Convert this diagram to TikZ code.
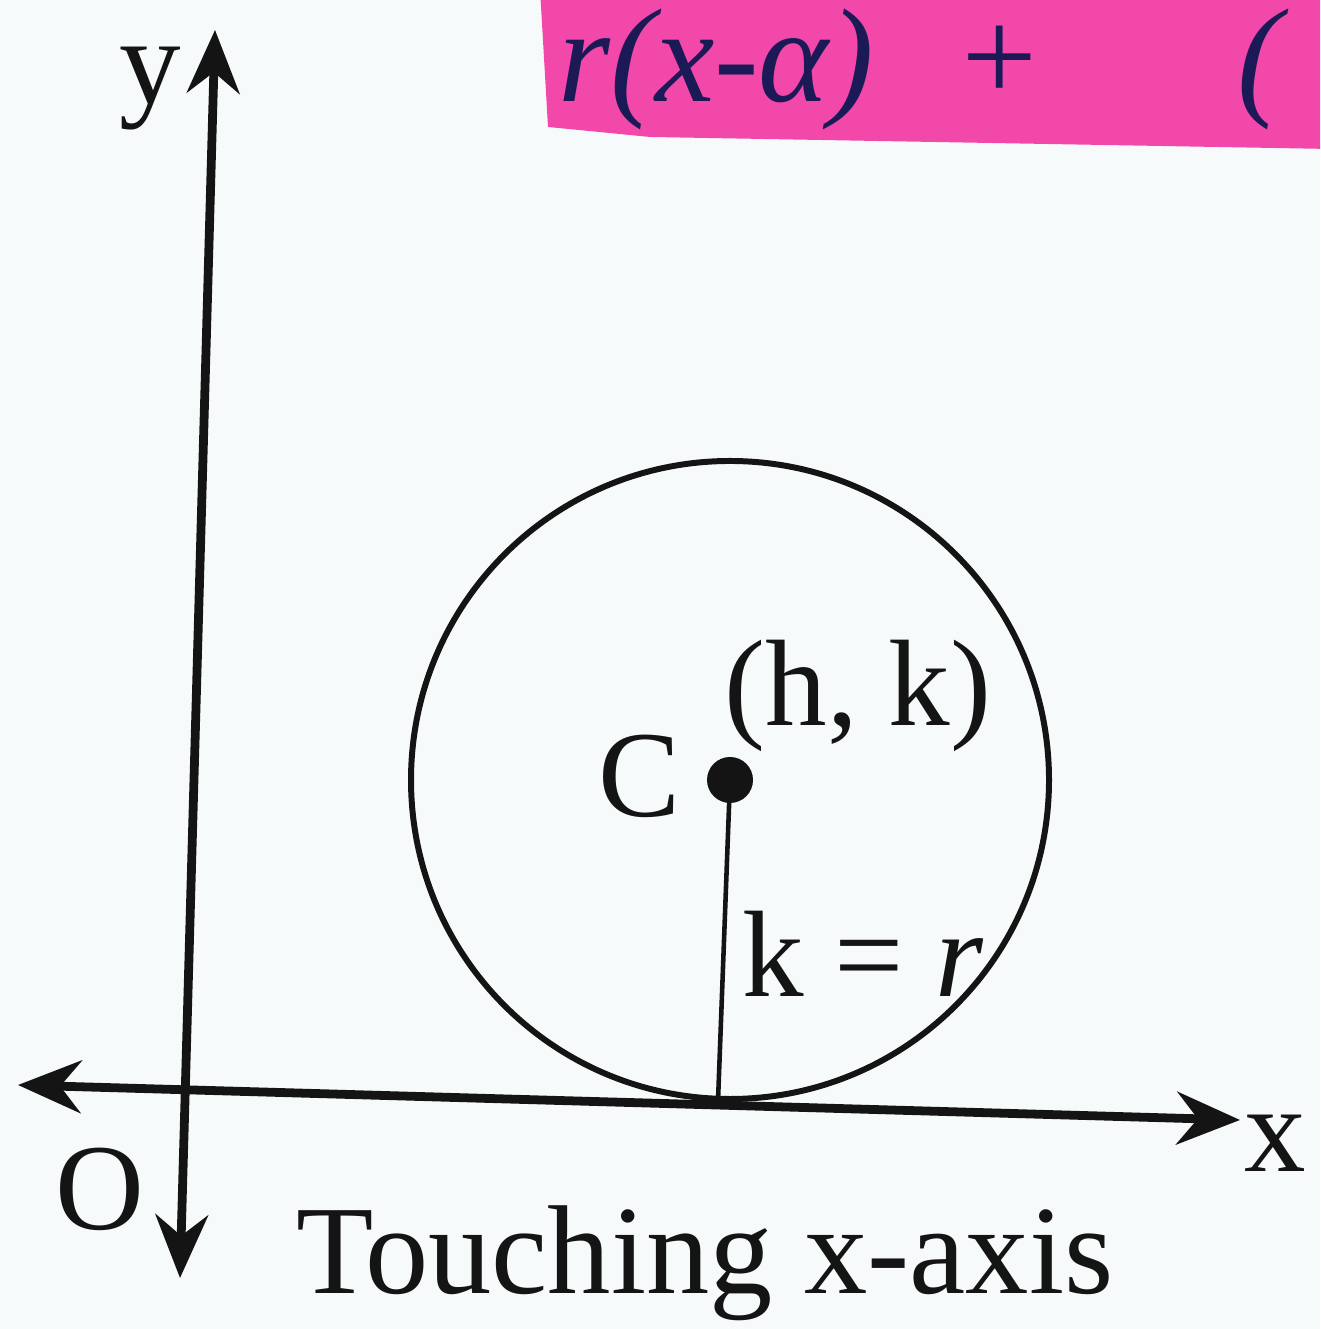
\documentclass[tikz,border=0pt]{standalone}
\usepackage{fontspec,amsmath,amssymb,unicode-math}
\setmainfont{Liberation Serif}
\usetikzlibrary{arrows.meta,positioning,calc}
\definecolor{scanpaper}{RGB}{246,250,251}
\definecolor{markpink}{RGB}{241,72,170}
\definecolor{inkblue}{RGB}{28,26,86}
\definecolor{printblack}{gray}{0.08}

\begin{document}
\begin{tikzpicture}[printblack,
  axis/.style={line width=2.5pt,{Stealth[length=18pt,width=15pt,inset=6pt]}-{Stealth[length=18pt,width=15pt,inset=6pt]}},
  lbl/.style={font=\fontsize{35}{40}\selectfont,inner sep=0pt}]
  \useasboundingbox[fill=scanpaper] (0,0) rectangle (13.20,13.29);
  \begin{scope}
    \clip (0,0) rectangle (13.20,13.29);
    \fill[markpink] (5.40,13.40) -- (13.30,13.40) -- (13.30,11.80) -- (6.50,11.92) -- (5.48,12.02) -- cycle;
    \node[inkblue,anchor=base west,inner sep=0pt,font=\fontsize{38}{42}\itshape] (note) at (5.58,12.27)
      {r(x-α)\hspace{0.6em}+\hspace{1.45em}(};
  \end{scope}

  \coordinate (ybot) at (1.80,0.51);
  \coordinate (ytop) at (2.15,12.99);
  \coordinate (xleft) at (0.18,2.44);
  \coordinate (xright) at (12.40,2.09);
  \draw[axis] (ybot) -- (ytop);
  \draw[axis] (xleft) -- (xright);

  \coordinate (C) at (7.30,5.49);
  \coordinate (T) at (7.18,2.28);
  \draw[line width=1.7pt] (C) circle[radius=3.19];
  \draw[line width=1.3pt] (C) -- (T);
  \fill (C) circle[radius=0.23];

  \node[lbl] (ylab) at (1.50,12.40) {y};
  \node[lbl] (xlab) at (12.75,1.86) {x};
  \node[lbl] (olab) at (1.00,1.40) {O};
  \node[lbl] (clab) at (6.40,5.53) {C};
  \node[lbl] (hk) at (8.58,6.33) {(h, k)};
  \node[lbl,anchor=base west] (kr) at (7.42,3.32) {k = \textit{r}};
  \node[lbl,font=\fontsize{36}{40}\selectfont] (title) at (7.05,0.66) {Touching x-axis};
\end{tikzpicture}
\end{document}
